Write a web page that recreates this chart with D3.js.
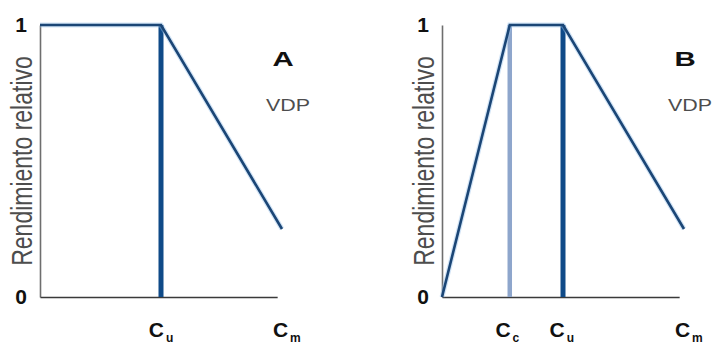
<!DOCTYPE html>
<html><head><meta charset="utf-8">
<script src="https://cdn.jsdelivr.net/npm/d3@7"></script>
<style>body{margin:0;background:#fff}svg{display:block}text{font-family:"Liberation Sans",Arial,sans-serif}</style>
</head><body><svg id="c" width="715" height="347"></svg>
<script>
// ---- data ----
const panelNames = ["A", "B"];
const panelNote = "VDP";
const yTitle = "Rendimiento relativo";
const yTickValues = [0, 1];
const curveAx = [0, 5, 10];
const curveAy = [1, 1, 0.25];
const curveBx = [0, 2.8, 5, 10];
const curveBy = [0, 1, 1, 0.25];
const markerA = [5];            // Cu
const markerBlight = [2.8];     // Cc
const markerBdark = [5];        // Cu
const xLabelsA = [{main: "C", sub: "u", x: 5}, {main: "C", sub: "m", x: 10.2}];
const xLabelsB = [{main: "C", sub: "c", x: 2.7}, {main: "C", sub: "u", x: 4.95}, {main: "C", sub: "m", x: 10.2}];
const xAxisEnd = 9.8;

const svg = d3.select("#c");
const origins = [40, 442];
const unit = 24.2;

function drawPanel(i, cx, cy, lights, darks, labels) {
  const ox = origins[i];
  const x = d3.scaleLinear().domain([0, 10]).range([ox, ox + 10 * unit]);
  const y = d3.scaleLinear().domain([0, 1]).range([297, 25]);
  const g = svg.append("g");

  // y axis
  const ya = g.append("g").attr("transform", `translate(${ox},0)`)
    .call(d3.axisLeft(y).tickValues(yTickValues).tickSize(0).tickPadding(13).tickFormat(d3.format("d")));
  ya.select(".domain").attr("stroke", "#6e6e6e").attr("stroke-width", 1.6);
  ya.selectAll("text").attr("font-size", 21).attr("font-weight", "bold").attr("fill", "#111");

  // x axis line
  const xa = g.append("g").attr("transform", `translate(0,${y(0)})`)
    .call(d3.axisBottom(d3.scaleLinear().domain([0, xAxisEnd]).range([ox, x(xAxisEnd)])).tickValues([]).tickSizeOuter(0));
  xa.select(".domain").attr("stroke", "#3a3a3a").attr("stroke-width", 1.6);

  // markers
  lights.forEach(v => g.append("line").attr("x1", x(v)).attr("x2", x(v)).attr("y1", y(0)).attr("y2", y(1))
    .attr("stroke", "#8ea6cc").attr("stroke-width", 4.5));
  darks.forEach(v => g.append("line").attr("x1", x(v)).attr("x2", x(v)).attr("y1", y(0)).attr("y2", y(1))
    .attr("stroke", "#0f4a88").attr("stroke-width", 5));

  // curve
  const pts = cx.map((v, k) => [v, cy[k]]);
  const line = d3.line().x(d => x(d[0])).y(d => y(d[1]));
  g.append("path").attr("d", line(pts)).attr("fill", "none").attr("stroke", "#9cc3ea").attr("stroke-width", 5).attr("opacity", 0.45);
  g.append("path").attr("d", line(pts)).attr("fill", "none").attr("stroke", "#1b4676").attr("stroke-width", 2.6).attr("stroke-linejoin", "miter");

  // y title
  const tx = ox - 19, ty = 161;
  g.append("text").attr("transform", `translate(${tx},${ty}) rotate(-90) scale(1,1.3)`)
    .attr("text-anchor", "middle").attr("dy", "0.36em").attr("font-size", 23).attr("fill", "#4d4d4d").text(yTitle);

  // panel letter & note
  g.append("text").attr("transform", `translate(${ox + 243},66) scale(1.4,1)`)
    .attr("text-anchor", "middle").attr("font-size", 21).attr("font-weight", "bold").attr("fill", "#111").text(panelNames[i]);
  g.append("text").attr("transform", `translate(${ox + 248},111) scale(1.3,1)`)
    .attr("text-anchor", "middle").attr("font-size", 16.5).attr("fill", "#4d4d4d").text(panelNote);

  // x labels
  labels.forEach(l => {
    const t = g.append("text").attr("x", x(l.x)).attr("y", 337).attr("text-anchor", "middle")
      .attr("font-weight", "bold").attr("fill", "#111");
    t.append("tspan").attr("font-size", 21).text(l.main);
    t.append("tspan").attr("font-size", 12).attr("dx", 2).attr("dy", 5).text(l.sub);
  });
}

drawPanel(0, curveAx, curveAy, [], markerA, xLabelsA);
drawPanel(1, curveBx, curveBy, markerBlight, markerBdark, xLabelsB);
</script></body></html>
